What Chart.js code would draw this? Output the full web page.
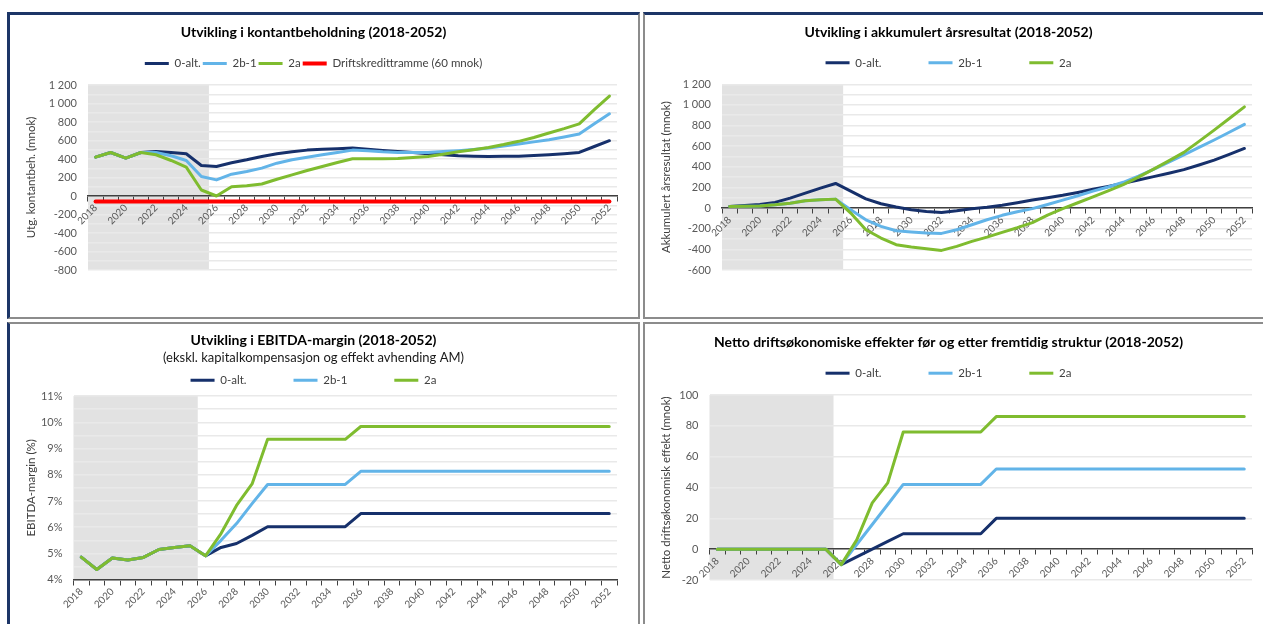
<!DOCTYPE html>
<html>
<head>
<meta charset="utf-8">
<script src="https://cdn.jsdelivr.net/npm/chart.js@4.4.1/dist/chart.umd.min.js"></script>
<style>
  html, body { margin: 0; padding: 0; background: #fff; overflow: hidden; width: 1263px; height: 624px; }
  .panel { position: absolute; box-sizing: border-box; width: 633px; height: 307px; border: 2px solid #8c8c8c; background: #fff; overflow: hidden; }
  .panel canvas { display: block; }
  #p1 { left: 7px; top: 12px; border-top: 3px solid #1c3567; border-left: 3px solid #1c3567; }
  #p2 { left: 643px; top: 12px; border-top: 3px solid #1c3567; }
  #p3 { left: 7px; top: 322px; border-left: 3px solid #1c3567; }
  #p4 { left: 643px; top: 322px; }
</style>
</head>
<body>
<div class="panel" id="p1"><canvas id="c1" width="628" height="302"></canvas></div>
<div class="panel" id="p2"><canvas id="c2" width="629" height="302"></canvas></div>
<div class="panel" id="p3"><canvas id="c3" width="628" height="303"></canvas></div>
<div class="panel" id="p4"><canvas id="c4" width="629" height="303"></canvas></div>
<script>
const years = ['2018','2019','2020','2021','2022','2023','2024','2025','2026','2027',
  '2028','2029','2030','2031','2032','2033','2034','2035','2036','2037',
  '2038','2039','2040','2041','2042','2043','2044','2045','2046','2047',
  '2048','2049','2050','2051','2052']
const lastHistoricYear = '2025'

// kontantbeholdning (mnok)
const cash0 = [420,470,410,470,480,470,457,330,319,359,391,427,457,478,496,505,511,520,
  505,493,482,470,457,445,435,430,428,429,431,437,446,457,471,535,598]
const cash2b1 = [420,470,410,470,471,435,384,210,174,236,264,301,355,391,420,446,471,496,
  490,478,471,470,471,480,490,503,518,540,562,585,609,638,670,780,888]
const cash2a = [420,470,410,470,446,384,312,65,0,101,112,130,181,228,275,319,362,402,
  402,402,405,415,428,452,478,500,525,556,591,633,681,728,779,933,1080]
const creditLimit = [-60,-60,-60,-60,-60,-60,-60,-60,-60,-60,-60,-60,-60,-60,-60,-60,-60,-60,
  -60,-60,-60,-60,-60,-60,-60,-60,-60,-60,-60,-60,-60,-60,-60,-60,-60]

// akkumulert årsresultat (mnok)
const acc0 = [16,25,35,55,97,145,194,239,165,90,42,10,-16,-32,-42,-26,-6,8,
  28,52,78,100,124,152,182,210,240,272,305,338,373,418,465,520,578]
const acc2b1 = [16,18,20,32,48,71,81,87,-15,-113,-177,-219,-232,-242,-245,-210,-161,-113,
  -70,-35,-5,35,77,120,165,205,250,310,375,445,515,588,660,735,811]
const acc2a = [16,18,20,32,48,71,81,87,-48,-210,-290,-355,-377,-394,-410,-371,-323,-281,
  -235,-190,-141,-68,-5,52,109,168,228,300,378,458,540,647,756,868,981]

// EBITDA-margin (%)
const ebitda0 = [4.86,4.39,4.83,4.75,4.85,5.15,5.23,5.29,4.91,5.23,5.38,5.69,6.02,6.02,6.02,6.02,6.02,6.02,
  6.52,6.52,6.52,6.52,6.52,6.52,6.52,6.52,6.52,6.52,6.52,6.52,6.52,6.52,6.52,6.52,6.52]
const ebitda2b1 = [4.86,4.39,4.83,4.75,4.85,5.15,5.23,5.29,4.91,5.5,6.14,6.9,7.63,7.63,7.63,7.63,7.63,7.63,
  8.13,8.13,8.13,8.13,8.13,8.13,8.13,8.13,8.13,8.13,8.13,8.13,8.13,8.13,8.13,8.13,8.13]
const ebitda2a = [4.86,4.39,4.83,4.75,4.85,5.15,5.23,5.29,4.91,5.76,6.83,7.65,9.35,9.35,9.35,9.35,9.35,9.35,
  9.84,9.84,9.84,9.84,9.84,9.84,9.84,9.84,9.84,9.84,9.84,9.84,9.84,9.84,9.84,9.84,9.84]

// netto driftsøkonomisk effekt (mnok)
const net0 = [0,0,0,0,0,0,0,0,-10,-5,0,5,10,10,10,10,10,10,
  20,20,20,20,20,20,20,20,20,20,20,20,20,20,20,20,20]
const net2b1 = [0,0,0,0,0,0,0,0,-10,3,16,29,42,42,42,42,42,42,
  52,52,52,52,52,52,52,52,52,52,52,52,52,52,52,52,52]
const net2a = [0,0,0,0,0,0,0,0,-10,6,30,43,76,76,76,76,76,76,
  86,86,86,86,86,86,86,86,86,86,86,86,86,86,86,86,86]

const NAVY = '#16306b'
const LIGHT = '#62b4e8'
const GREEN = '#7fbc2f'
const RED = '#ff0000'
const FONT = 'Lato, "Open Sans", sans-serif'
const TITLE_SIZE = 14
const SUB_SIZE = 13
const LEGEND_SIZE = 11.5
const TITLE_LH = TITLE_SIZE * 1.2
const SUB_LH = SUB_SIZE * 1.2

// grey background for the historic years
const historyShade = {
  id: 'history',
  beforeDraw(chart, args, opts) {
    const {ctx, chartArea, scales} = chart
    const x = scales.x
    const i = years.indexOf(opts.until)
    const half = (x.getPixelForValue(1) - x.getPixelForValue(0)) / 2
    const right = x.getPixelForValue(i) + half
    ctx.save()
    ctx.fillStyle = '#e2e2e2'
    ctx.fillRect(chartArea.left, chartArea.top, right - chartArea.left, chartArea.bottom - chartArea.top)
    ctx.restore()
  }
}

function nok(v) {
  const s = String(Math.abs(v)).replace(/\B(?=(\d{3})+(?!\d))/g, ' ')
  return (v < 0 ? '-' : '') + s
}

function line(label, data, color, order, width) {
  return {
    label: label, data: data, borderColor: color, backgroundColor: color,
    borderWidth: width || 3, pointRadius: 0, pointHoverRadius: 0, tension: 0,
    borderJoinStyle: 'round', borderCapStyle: 'round', fill: false, order: order
  }
}

// paddings so that title, subtitle and legend row land on the wanted centres (canvas px)
function header(p) {
  const top = -40
  const legendTop = p.legendY - p.gap - LEGEND_SIZE / 2
  const legendBottom = p.legendY + LEGEND_SIZE / 2 + 10
  const titleBottom = p.titleY + TITLE_LH / 2
  const title = {top: p.titleY - TITLE_LH / 2 - top, bottom: 0}
  let sub = 0
  if (p.subY == null) {
    title.bottom = legendTop - titleBottom
  } else {
    const split = legendTop - 10
    title.bottom = split - titleBottom
    sub = {top: p.subY - SUB_LH / 2 - split, bottom: legendTop - (p.subY + SUB_LH / 2)}
  }
  return {top: top, title: title, sub: sub, extra: Math.max(0, p.top - legendBottom)}
}

function makeChart(id, p) {
  const h = header(p)
  return new Chart(document.getElementById(id), {
    type: 'line',
    data: {labels: years, datasets: p.datasets},
    plugins: [historyShade],
    options: {
      responsive: false,
      animation: false,
      layout: {padding: {top: h.top, right: p.right, bottom: 0, left: 0}},
      plugins: {
        title: {display: true, text: p.title, color: '#000', font: {family: FONT, size: TITLE_SIZE, weight: 'bold'}, padding: h.title},
        subtitle: {display: !!p.subtitle, text: p.subtitle || '', color: '#1a1a1a', font: {family: FONT, size: SUB_SIZE}, padding: h.sub},
        legend: {
          labels: {usePointStyle: true, pointStyle: 'line', pointStyleWidth: 24, padding: p.gap,
            color: '#404040', font: {family: FONT, size: LEGEND_SIZE},
            sort: (a, b) => a.datasetIndex - b.datasetIndex}
        },
        tooltip: {enabled: false},
        history: {until: lastHistoricYear}
      },
      scales: {
        x: {
          type: 'category',
          offset: true,
          position: {y: p.axisAt},
          grid: {drawOnChartArea: false, offset: true, tickLength: 5, color: '#404040'},
          border: {color: '#404040', width: 1.5},
          ticks: {
            autoSkip: false, minRotation: 45, maxRotation: 45, padding: 1,
            color: '#595959', font: {family: FONT, size: 10},
            callback: (v, i) => i % 2 === 0 ? years[i] : ''
          }
        },
        y: {
          min: p.min, max: p.max,
          afterFit: (s) => { s.width = p.left; s.paddingTop = p.top; s.paddingBottom = p.bottom },
          grid: {color: '#e9e9e9', lineWidth: 1.5, drawTicks: false},
          border: {display: false},
          title: {display: true, text: p.yTitle, color: '#404040', font: {family: FONT, size: 11.5}, padding: {top: 14, bottom: 0}},
          ticks: {stepSize: p.step, autoSkip: false, padding: 11, color: '#595959', font: {family: FONT, size: 11}, callback: p.fmt}
        },
        // empty strip between legend and plot
        gap: {
          type: 'category', position: 'top',
          grid: {display: false}, border: {display: false}, ticks: {display: false},
          afterFit: (s) => { s.height = h.extra }
        }
      }
    }
  })
}

makeChart('c1', {
  title: 'Utvikling i kontantbeholdning (2018-2052)',
  yTitle: 'Utg. kontantbeh. (mnok)',
  titleY: 17.7, subY: null, legendY: 48.5, gap: 2,
  left: 78, right: 21, top: 70, bottom: 47,
  min: -800, max: 1200, step: 100, axisAt: 0,
  fmt: (v) => v % 200 === 0 ? nok(v) : '',
  datasets: [
    line('0-alt.', cash0, NAVY, 3),
    line('2b-1', cash2b1, LIGHT, 2),
    line('2a', cash2a, GREEN, 1),
    line('Driftskredittramme (60 mnok)', creditLimit, RED, 4, 4)
  ]
})

makeChart('c2', {
  title: 'Utvikling i akkumulert årsresultat (2018-2052)',
  yTitle: 'Akkumulert årsresultat (mnok)',
  titleY: 17.7, subY: null, legendY: 47.8, gap: 47,
  left: 77, right: 22, top: 69.3, bottom: 47,
  min: -600, max: 1200, step: 100, axisAt: 0,
  fmt: (v) => v % 200 === 0 ? nok(v) : '',
  datasets: [
    line('0-alt.', acc0, NAVY, 3),
    line('2b-1', acc2b1, LIGHT, 2),
    line('2a', acc2a, GREEN, 1)
  ]
})

makeChart('c3', {
  title: 'Utvikling i EBITDA-margin (2018-2052)',
  subtitle: '(ekskl. kapitalkompensasjon og effekt avhending AM)',
  yTitle: 'EBITDA-margin (%)',
  titleY: 16.7, subY: 34.3, legendY: 56.3, gap: 47,
  left: 63.5, right: 21, top: 71, bottom: 47.3,
  min: 4, max: 11, step: 0.5, axisAt: 4,
  fmt: (v) => Math.abs(v - Math.round(v)) < 1e-9 ? Math.round(v) + '%' : '',
  datasets: [
    line('0-alt.', ebitda0, NAVY, 3),
    line('2b-1', ebitda2b1, LIGHT, 2),
    line('2a', ebitda2a, GREEN, 1)
  ]
})

makeChart('c4', {
  title: 'Netto driftsøkonomiske effekter før og etter fremtidig struktur (2018-2052)',
  yTitle: 'Netto driftsøkonomisk effekt (mnok)',
  titleY: 18.7, subY: null, legendY: 49.2, gap: 47,
  left: 64.5, right: 22, top: 71, bottom: 47,
  min: -20, max: 100, step: 20, axisAt: 0,
  fmt: (v) => String(v),
  datasets: [
    line('0-alt.', net0, NAVY, 3),
    line('2b-1', net2b1, LIGHT, 2),
    line('2a', net2a, GREEN, 1)
  ]
})
</script>
</body>
</html>
